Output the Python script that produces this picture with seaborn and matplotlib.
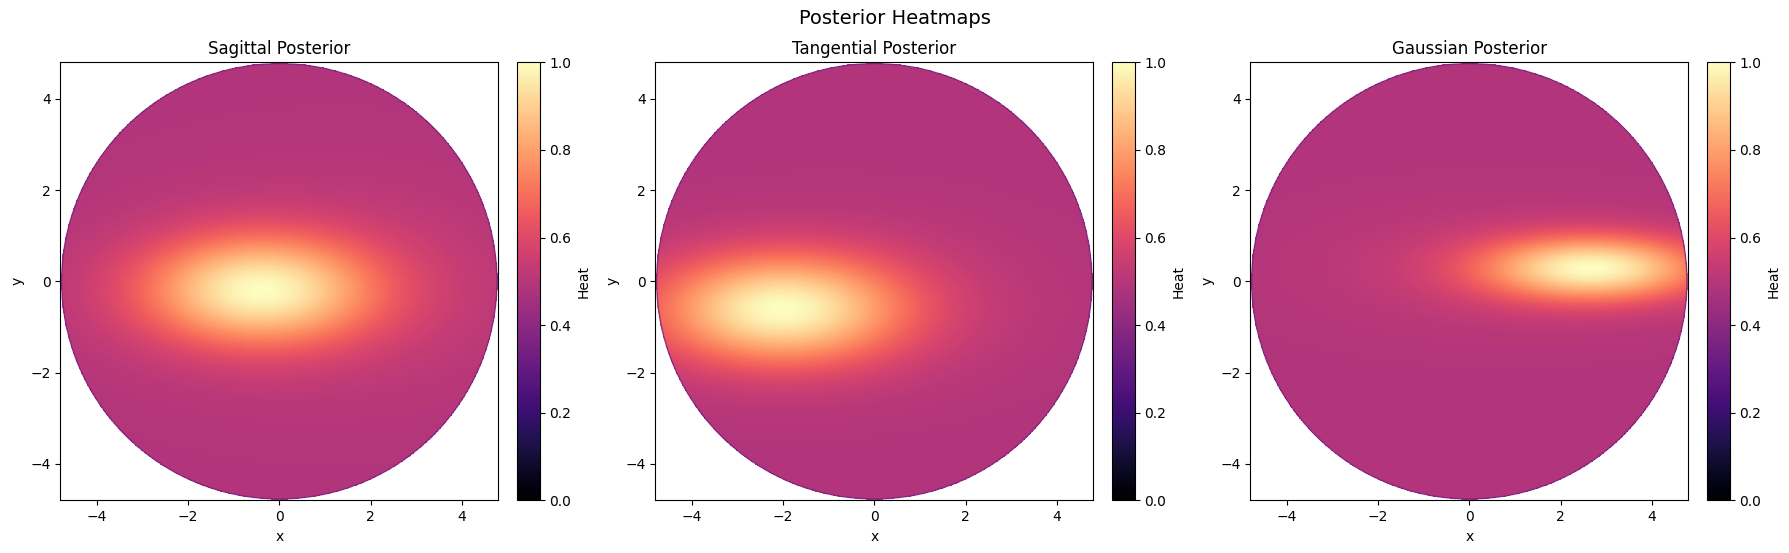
import numpy as np
import pandas as pd
import seaborn as sns
import matplotlib.pyplot as plt
from matplotlib.patches import Circle

# ---- data (parameters of each heat field) ----
panel_titles = ["Sagittal Posterior", "Tangential Posterior", "Gaussian Posterior"]
base_level = [0.49, 0.49, 0.49]
peak_x = [-0.45, -2.10, 2.72]
peak_y = [-0.20, -0.62, 0.28]
peak_sx = [1.80, 1.90, 1.70]
peak_sy = [0.85, 0.85, 0.50]
tail_x = [1.20, -0.30, 0.80]
tail_y = [-0.10, -0.40, 0.30]
tail_sx = [3.00, 2.40, 2.80]
tail_sy = [1.60, 1.10, 0.90]
tail_amp = [0.10, 0.10, 0.10]
disk_radius = 4.8
axis_ticks = [-4, -2, 0, 2, 4]
cbar_ticks = [0.0, 0.2, 0.4, 0.6, 0.8, 1.0]

N = 600
step = 2 * disk_radius / N
coords = np.linspace(-disk_radius + step / 2, disk_radius - step / 2, N)
X, Y = np.meshgrid(coords, coords[::-1])
outside = np.hypot(X, Y) > disk_radius - 0.02


def field(i):
    g1 = np.exp(-((X - peak_x[i]) ** 2 / (2 * peak_sx[i] ** 2)
                  + (Y - peak_y[i]) ** 2 / (2 * peak_sy[i] ** 2)))
    g2 = np.exp(-((X - tail_x[i]) ** 2 / (2 * tail_sx[i] ** 2)
                  + (Y - tail_y[i]) ** 2 / (2 * tail_sy[i] ** 2)))
    f = g1 + tail_amp[i] * g2
    f = f / f[~outside].max()
    return base_level[i] + (1 - base_level[i]) * f


W, H = 1790, 553
fig = plt.figure(figsize=(W / 100, H / 100), dpi=100)
cmap = sns.color_palette("magma", as_cmap=True)

ax_left = [60.3, 655.3, 1250.3]
cb_left = [517.3, 1112.3, 1707.3]
ax_top, ax_bot = 62.3, 500.3
ax_w = 438.0
cb_w = 22.4

def idx_x(v):
    return (v + disk_radius) / (2 * disk_radius) * N

def idx_y(v):
    return (disk_radius - v) / (2 * disk_radius) * N

for i in range(3):
    ax = fig.add_axes([ax_left[i] / W, 1 - ax_bot / H, ax_w / W, (ax_bot - ax_top) / H])
    cax = fig.add_axes([cb_left[i] / W, 1 - ax_bot / H, cb_w / W, (ax_bot - ax_top) / H])
    df = pd.DataFrame(field(i), index=coords[::-1], columns=coords)
    sns.heatmap(df, ax=ax, cmap=cmap, vmin=0, vmax=1, mask=outside,
                cbar_ax=cax, cbar_kws={"label": "Heat", "ticks": cbar_ticks},
                xticklabels=False, yticklabels=False, rasterized=True)
    ax.add_patch(Circle((N / 2, N / 2), radius=(disk_radius - 0.03) / (2 * disk_radius) * N,
                        fill=False, edgecolor=cmap(0.36), lw=1.0, alpha=0.8))
    ax.set_xlim(0, N)
    ax.set_ylim(N, 0)
    ax.set_xticks([idx_x(t) for t in axis_ticks])
    ax.set_xticklabels([str(t).replace("-", "\u2212") for t in axis_ticks], rotation=0, fontsize=10)
    ax.set_yticks([idx_y(t) for t in axis_ticks])
    ax.set_yticklabels([str(t).replace("-", "\u2212") for t in axis_ticks], rotation=0, fontsize=10)
    ax.tick_params(length=3.5, width=0.8, direction="out", bottom=True, left=True)
    for s in ax.spines.values():
        s.set_visible(True)
        s.set_linewidth(0.8)
        s.set_color("black")
    ax.set_xlabel("x", fontsize=10)
    ax.set_ylabel("y", fontsize=10)
    ax.set_title(panel_titles[i], fontsize=12)
    cb = ax.collections[0].colorbar
    cb.outline.set_visible(True)
    cb.outline.set_linewidth(0.8)
    cb.ax.tick_params(labelsize=10, length=3.5, width=0.8)
    cb.ax.yaxis.label.set_size(10)
    cb.ax.set_yticklabels([f"{t:.1f}" for t in cbar_ticks])

fig.text(0.5, 1 - 18 / H, "Posterior Heatmaps", ha="center", va="center", fontsize=14)
fig.savefig("out.png", dpi=100)
